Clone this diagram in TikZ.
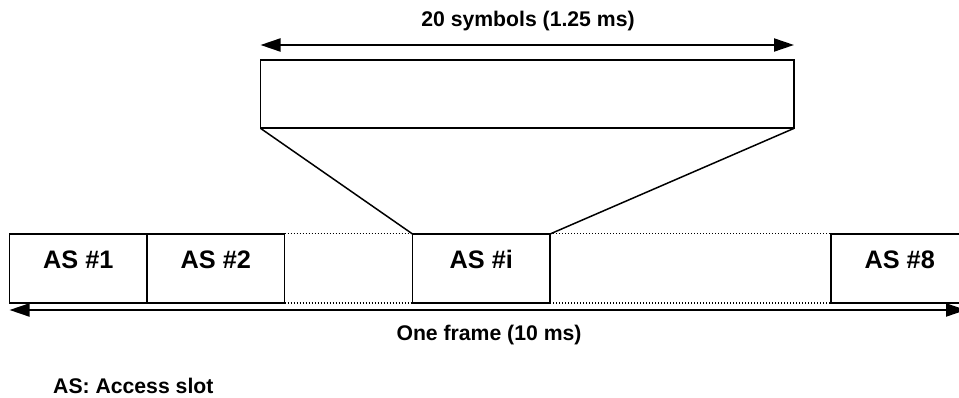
\documentclass[tikz,border=0pt]{standalone}
\usepackage{fontspec}
\setmainfont{Liberation Sans}
\usetikzlibrary{arrows.meta,positioning}
\tikzset{
  slotbox/.style={draw=black, line width=1.8pt, minimum width=137.5pt, minimum height=69pt,
    inner sep=0pt, outer sep=0pt, text height=12pt, text depth=12pt, font=\bfseries\fontsize{25.3}{30}\selectfont},
  zoombox/.style={draw=black, line width=1.8pt, minimum width=533.5pt, minimum height=68.3pt, inner sep=0pt, outer sep=0pt},
  dots/.style={draw=black, line width=1pt, dash pattern=on 1pt off 2pt},
  fan/.style={draw=black, line width=1.5pt},
  dim/.style={draw=black, line width=2pt, >={Triangle[length=20pt,width=13pt]}, <->},
  lab/.style={font=\bfseries\fontsize{21.2}{25}\selectfont, inner sep=0pt, anchor=base},
}
\begin{document}
\begin{tikzpicture}[x=1pt,y=-1pt]
  \fill[white] (0,0) rectangle (959,398);
  \useasboundingbox (0,0) rectangle (959,398);
  % access slots of one frame
  \node[slotbox] (as1) at (78.3,268.5) {AS \#1};
  \node[slotbox, right=0pt of as1] (as2) {AS \#2};
  \node[slotbox] (asi) at (481.3,268.5) {AS \#i};
  \node[slotbox] (as8) at (899.7,268.5) {AS \#8};
  \draw[dots] (as2.north east) -- (asi.north west) (as2.south east) -- (asi.south west);
  \draw[dots] (asi.north east) -- (as8.north west) (asi.south east) -- (as8.south west);
  % slot i blown up
  \node[zoombox] (sym) at (527.3,94.2) {};
  \draw[fan] (sym.south west) -- (asi.north west) (sym.south east) -- (asi.north east);
  \coordinate (symL) at (260.5,45);
  \coordinate (symR) at (794,45);
  \draw[dim] (symL) -- (symR);
  \node[lab] (symlab) at (528,26.7) {20 symbols (1.25 ms)};
  % whole frame
  \coordinate (frL) at (9.5,310);
  \coordinate (frR) at (966,310);
  \draw[dim] (frL) -- (frR);
  \node[lab] (frlab) at (489,340) {One frame (10 ms)};
  \node[lab, anchor=base west] (legend) at (53,393) {AS: Access slot};
\end{tikzpicture}
\end{document}
